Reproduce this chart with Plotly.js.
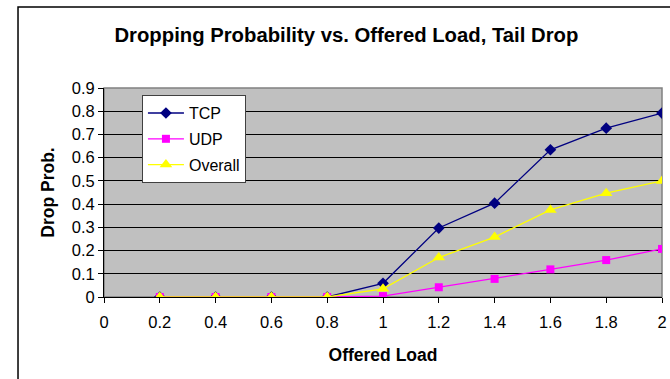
<!DOCTYPE html>
<html>
<head>
<meta charset="utf-8">
<script src="https://cdn.plot.ly/plotly-3.0.1.min.js"></script>
<style>
  html, body { margin: 0; padding: 0; background: #ffffff; }
  #chart { width: 670px; height: 379px; }
</style>
</head>
<body>
<div id="chart"></div>
<script>
// Offered load values (x) and drop probabilities per traffic class
const offeredLoad = [0.2, 0.4, 0.6, 0.8, 1.0, 1.2, 1.4, 1.6, 1.8, 2.0];
const tcpDrop     = [0, 0, 0, 0, 0.059, 0.297, 0.404, 0.634, 0.727, 0.792];
const udpDrop     = [0, 0, 0, 0, 0.004, 0.042, 0.078, 0.119, 0.159, 0.207];
const overallDrop = [0, 0, 0, 0, 0.035, 0.17, 0.258, 0.375, 0.447, 0.5];

const xTickVals = [0, 0.2, 0.4, 0.6, 0.8, 1, 1.2, 1.4, 1.6, 1.8, 2];
const xTickText = ['0', '0.2', '0.4', '0.6', '0.8', '1', '1.2', '1.4', '1.6', '1.8', '2'];
const yTickVals = [0, 0.1, 0.2, 0.3, 0.4, 0.5, 0.6, 0.7, 0.8, 0.9];
const yTickText = ['0', '0.1', '0.2', '0.3', '0.4', '0.5', '0.6', '0.7', '0.8', '0.9'];

const FONT = 'Arial, "Liberation Sans", sans-serif';

const traces = [
  {
    x: offeredLoad, y: tcpDrop, name: 'TCP', type: 'scatter', mode: 'lines+markers',
    line: { color: '#000080', width: 1.3 },
    marker: { symbol: 'diamond', size: 9, color: '#000080' },
    legendgroup: 'a'
  },
  {
    x: offeredLoad, y: udpDrop, name: 'UDP', type: 'scatter', mode: 'lines+markers',
    line: { color: '#FF00FF', width: 1.3 },
    marker: { symbol: 'square', size: 8, color: '#FF00FF' },
    legendgroup: 'b'
  },
  {
    x: offeredLoad, y: overallDrop, name: 'Overall', type: 'scatter', mode: 'lines+markers',
    line: { color: '#FFFF00', width: 1.3 },
    marker: { symbol: 'triangle-up', size: 11, color: '#FFFF00' },
    legendgroup: 'c'
  }
];

const layout = {
  width: 670,
  height: 379,
  margin: { l: 104, r: 8, t: 88, b: 82 },
  paper_bgcolor: '#ffffff',
  plot_bgcolor: '#C0C0C0',
  font: { family: FONT, size: 16, color: '#000000' },
  title: {
    text: '<b>Dropping Probability vs. Offered Load, Tail Drop</b>',
    font: { family: FONT, size: 20.3, color: '#000000' },
    x: 0.517, xanchor: 'center', xref: 'container',
    y: 0.908, yanchor: 'middle', yref: 'container'
  },
  xaxis: {
    range: [0, 2],
    tickmode: 'array', tickvals: xTickVals, ticktext: xTickText,
    ticks: 'outside', ticklen: 5, tickcolor: '#000000', tickwidth: 1,
    ticklabelstandoff: 5,
    showgrid: false, zeroline: false,
    showline: true, linecolor: '#000000', linewidth: 1,
    tickfont: { family: FONT, size: 16.5 },
    title: { text: '<b>Offered Load</b>', font: { family: FONT, size: 17.5 }, standoff: 18 }
  },
  yaxis: {
    range: [0, 0.9],
    tickmode: 'array', tickvals: yTickVals, ticktext: yTickText,
    ticks: 'outside', ticklen: 5, tickcolor: '#000000', tickwidth: 1,
    showgrid: true, gridcolor: '#000000', gridwidth: 1,
    zeroline: false,
    showline: true, linecolor: '#000000', linewidth: 1,
    tickfont: { family: FONT, size: 16.5 },
    title: { text: '<b>Drop Prob.</b>', font: { family: FONT, size: 17.5 }, standoff: 12 }
  },
  legend: {
    x: 0.068, xanchor: 'left',
    y: 0.966, yanchor: 'top',
    bgcolor: '#ffffff', bordercolor: '#404040', borderwidth: 1,
    font: { family: FONT, size: 16 },
    itemwidth: 36,
    traceorder: 'grouped', tracegroupgap: 2
  },
  shapes: [
    // grey frame of the plotting area
    { type: 'rect', xref: 'paper', yref: 'paper', x0: 0, x1: 1, y0: 0, y1: 1,
      line: { color: '#808080', width: 1.5 }, layer: 'below' },
    // outer chart border
    { type: 'rect', xref: 'paper', yref: 'paper', x0: -0.1541, x1: 1.2, y0: -1, y1: 1.3876,
      line: { color: '#000000', width: 1.5 }, layer: 'below' }
  ],
  showlegend: true
};

Plotly.newPlot('chart', traces, layout, { displayModeBar: false, staticPlot: true });
</script>
</body>
</html>
